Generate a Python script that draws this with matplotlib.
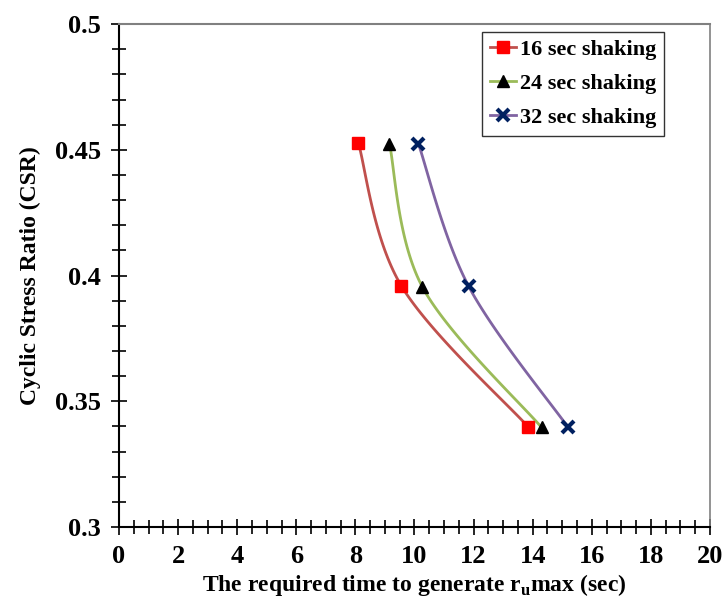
import numpy as np
import matplotlib.pyplot as plt
from matplotlib.ticker import MultipleLocator

plt.rcParams['font.family'] = 'Liberation Serif'
plt.rcParams['font.weight'] = 'bold'
plt.rcParams['mathtext.fontset'] = 'custom'
plt.rcParams['mathtext.rm'] = 'Liberation Serif:bold'

labels = ['16 sec shaking', '24 sec shaking', '32 sec shaking']
t16 = [8.1, 9.55, 13.85]
t24 = [9.15, 10.27, 14.3]
t32 = [10.13, 11.83, 15.2]
csr16 = [0.4527, 0.3960, 0.3398]
csr24 = [0.4525, 0.3954, 0.3396]
csr32 = [0.4525, 0.3958, 0.3396]

line_colors = ['#c0504d', '#9bbb59', '#8064a2']
mk_colors = ['#ff0000', '#000000', '#002060']
markers = ['s', '^', 'x']

# pixel scale per unit, used so the smoothing looks like Excel's
sx, sy = 591 / 20.0, 503 / 0.2


def smooth(x, y, n=40):
    p = np.column_stack([np.array(x) * sx, np.array(y) * sy])
    out = [p[0]]
    for i in range(len(p) - 1):
        p0 = p[i - 1] if i > 0 else p[i]
        p1, p2 = p[i], p[i + 1]
        p3 = p[i + 2] if i + 2 < len(p) else p[i + 1]
        c1 = p1 + (p2 - p0) / 6
        c2 = p2 - (p3 - p1) / 6
        t = np.linspace(0, 1, n)[1:, None]
        b = (1 - t) ** 3 * p1 + 3 * (1 - t) ** 2 * t * c1 + 3 * (1 - t) * t ** 2 * c2 + t ** 3 * p2
        out.extend(b)
    out = np.array(out)
    return out[:, 0] / sx, out[:, 1] / sy


fig = plt.figure(figsize=(7.23, 6.03), dpi=100)
ax = fig.add_axes([0.1646, 0.126, 0.8174, 0.834])

series = [(t16, csr16), (t24, csr24), (t32, csr32)]
for (x, y), lab, lc, mc, m in zip(series, labels, line_colors, mk_colors, markers):
    xs, ys = smooth(x, y)
    ax.plot(xs, ys, color=lc, lw=2, zorder=2)
    ms = 9 if m != 'x' else 8
    ax.plot(x, y, ls='none', marker=m, color=mc, ms=ms, mew=3 if m == 'x' else 1, zorder=3)
    ax.plot([], [], color=lc, lw=2, marker=m, mfc=mc, mec=mc, ms=ms, mew=3 if m == 'x' else 1, label=lab)

ax.set_xlim(0, 20)
ax.set_ylim(0.3, 0.5)
ax.xaxis.set_major_locator(MultipleLocator(2))
ax.xaxis.set_minor_locator(MultipleLocator(0.5))
ax.yaxis.set_major_locator(MultipleLocator(0.05))
ax.yaxis.set_minor_locator(MultipleLocator(0.01))
ax.yaxis.set_major_formatter(plt.FuncFormatter(lambda v, p: ('%.2f' % v).rstrip('0').rstrip('.')))
ax.tick_params(which='both', direction='inout', width=1.2, labelsize=19, pad=7)
ax.tick_params(which='major', length=12)
ax.tick_params(which='minor', length=10)
for s in ['top', 'right']:
    ax.spines[s].set_color('#808080')
for s in ['left', 'bottom']:
    ax.spines[s].set_linewidth(1.5)
ax.spines['top'].set_linewidth(1.5)
ax.spines['right'].set_linewidth(1.2)

ax.set_xlabel(r'The required time to generate r$_\mathrm{u}$max (sec)', fontsize=17, fontweight='bold', labelpad=3)
ax.set_ylabel('Cyclic Stress Ratio (CSR)', fontsize=17, fontweight='bold', labelpad=10)

leg = ax.legend(loc='upper right', bbox_to_anchor=(0.922, 0.985), fontsize=16, frameon=True, fancybox=False,
                handlelength=1.2, handletextpad=0.15, borderpad=0.35, labelspacing=0.6, borderaxespad=0)
leg.get_frame().set_edgecolor('black')
leg.get_frame().set_linewidth(1)

fig.savefig('out.png', dpi=100)
